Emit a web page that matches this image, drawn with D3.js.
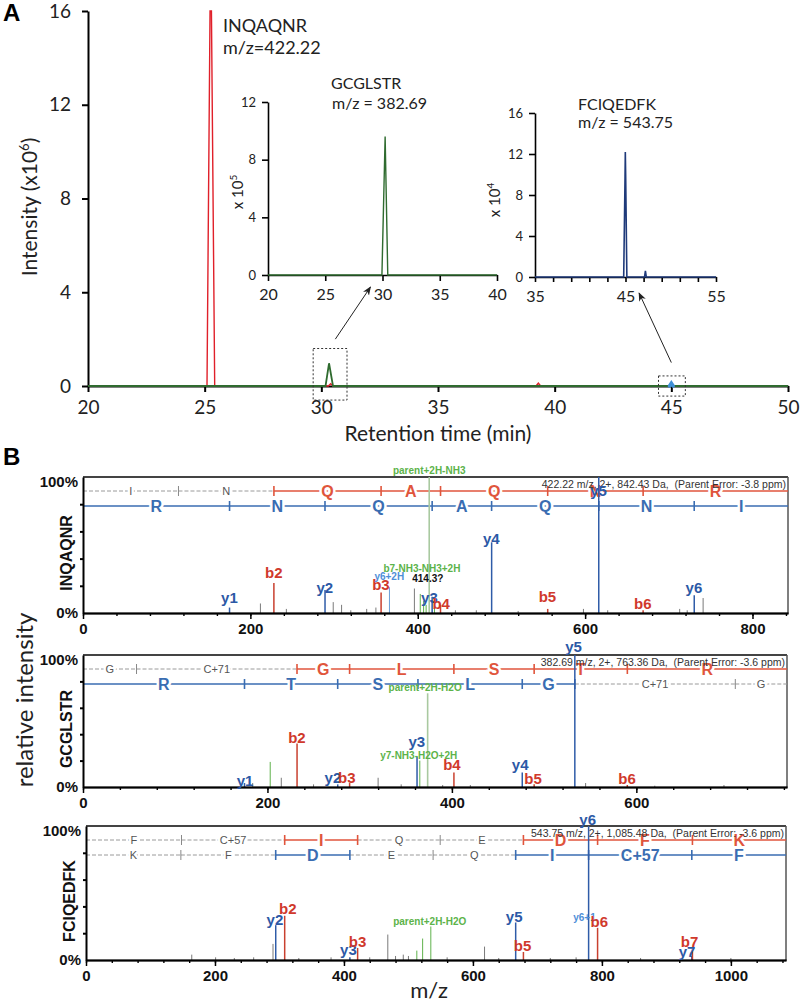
<!DOCTYPE html>
<html>
<head>
<meta charset="utf-8">
<script src="https://cdn.jsdelivr.net/npm/d3@7"></script>
<style>
  body { margin: 0; background: #fff; }
  svg { display: block; }
</style>
</head>
<body>
<div id="fig"></div>
<script>
const W = 800, H = 1005;

// ---------- panel A data : extracted ion chromatograms ----------
const RT_TICKS = [20, 25, 30, 35, 40, 45, 50];
const INT_TICKS = [0, 4, 8, 12, 16];
const redTime = [20, 25.1, 25.23, 25.29, 25.43, 30.3, 30.4, 30.5, 39.2, 39.3, 39.4, 50];
const redInt = [0, 0, 16, 16, 0, 0, 0.1, 0, 0, 0.12, 0, 0];
const greenTime = [20, 30.18, 30.33, 30.5, 50];
const greenInt = [0, 0, 0.97, 0, 0];
const blueTime = [44.92, 45.0, 45.08];
const blueInt = [0, 0.12, 0];

// inset 1 (GCGLSTR, x 10^5)
const IN1_XTICKS = [20, 25, 30, 35, 40];
const IN1_YTICKS = [0, 4, 8, 12];
const in1Time = [20, 29.95, 30.23, 30.46, 40];
const in1Int = [0, 0, 9.6, 0, 0];

// inset 2 (FCIQEDFK, x 10^4)
const IN2_XTICKS = [35, 37, 39, 41, 43, 45, 47, 49, 51, 53, 55];
const IN2_XLABELS = [35, 45, 55];
const IN2_YTICKS = [0, 4, 8, 12, 16];
const in2Time = [35, 44.8, 44.95, 44.98, 45.02, 45.15, 47.1, 47.2, 47.3, 55];
const in2Int = [0, 0, 9.8, 12.2, 9.8, 0, 0, 0.6, 0, 0];

// ---------- panel B data : MS/MS spectra ----------
const MZ_MAJOR = [0, 200, 400, 600, 800, 1000];

// spectrum 1 : INQAQNR
const s1Name = "INQAQNR";
const s1Header = "422.22 m/z, 2+, 842.43 Da,  (Parent Error: -3.8 ppm)";
const s1MaxMz = 842.43;
const s1Mz = [175.1, 212, 243, 228.1, 289.2, 299, 309, 320, 339, 350, 356.2, 366.2, 396, 403, 407, 410, 413.7, 417.2, 420, 427.2, 445, 470, 488.3, 520, 555.3, 598, 616.3, 627, 669.3, 713, 722, 730.4, 741];
const s1Rel = [4, 7, 3, 22, 17, 8, 6, 2, 3, 4, 15, 19, 18, 14, 9, 6, 100, 12, 10, 6, 2, 2, 52, 1.5, 3, 3, 100, 2, 2, 3, 2, 13, 11];
const s1Kind = ['y','n','n','b','y','n','n','n','n','n','b','w','n','g','g','g','p','y','g','b','n','n','y','n','b','n','y','n','b','n','n','y','n'];
const s1LabText = ['y1','b2','y2','b3','y6+2H','b7-NH3-NH3+2H','414.3?','y3','b4','y4','b5','y5','b6','y6','parent+2H-NH3'];
const s1LabMz = [175, 228, 289, 356, 366, 405, 412, 414, 428, 488, 555, 616, 669, 730, 413.7];
const s1LabRel = [7, 26, 15, 17, 24, 30, 23, 7, 3, 51, 8, 86, 3, 15, 102];
const s1LabKind = ['y','b','y','b','w','g','k','y','b','y','b','y','b','y','g'];
const s1BRes = ['I','N','Q','A','Q','N','R'];
const s1BIons = [114.09, 228.13, 356.19, 427.23, 555.28, 669.33];
const s1BCov = [false, false, true, true, true, true, true];
const s1YRes = ['R','N','Q','A','Q','N','I'];
const s1YIons = [175.12, 289.16, 417.22, 488.26, 616.32, 730.36];
const s1YCov = [true, true, true, true, true, true, true];

// spectrum 2 : GCGLSTR
const s2Name = "GCGLSTR";
const s2Header = "382.69 m/z, 2+, 763.36 Da,  (Parent Error: -3.6 ppm)";
const s2MaxMz = 763.36;
const s2Mz = [175.1, 184, 203, 215, 232.1, 250, 276.2, 289.1, 320, 345, 362.2, 365.2, 373.7, 390, 402.2, 420, 476.3, 489.2, 533.3, 545, 590.2, 620, 695];
const s2Rel = [3, 3, 19, 7, 33, 2, 2, 3, 7, 2, 23, 20, 71, 1.5, 11, 1.5, 11, 2, 100, 3, 1.5, 1, 1.5];
const s2Kind = ['y','n','g','n','b','n','y','b','n','n','y','g','p','n','b','n','y','b','y','n','b','n','n'];
const s2LabText = ['y1','b2','y2','b3','y3','y7-NH3-H2O+2H','parent+2H-H2O','b4','y4','b5','y5','b6'];
const s2LabMz = [175.7, 232, 271, 286, 362, 364, 371, 400, 474, 488, 532, 590];
const s2LabRel = [1, 33, 3, 3, 30, 21, 73, 13, 13, 2, 102, 2];
const s2LabKind = ['y','b','y','b','y','g','g','b','y','b','y','b'];
const s2BRes = ['G','C+71','G','L','S','T','R'];
const s2BIons = [58.03, 232.05, 289.07, 402.16, 489.19, 590.24];
const s2BCov = [false, false, true, true, true, true, true];
const s2YRes = ['R','T','S','L','G','C+71','G'];
const s2YIons = [175.12, 276.17, 363.20, 476.28, 533.30, 707.3];
const s2YCov = [true, true, true, true, true, false, false];

// spectrum 3 : FCIQEDFK
const s3Name = "FCIQEDFK";
const s3Header = "543.75 m/z, 2+, 1,085.48 Da,  (Parent Error: -3.6 ppm)";
const s3MaxMz = 1085.48;
const s3Mz = [164, 201, 230, 260, 290, 294.2, 308.1, 330, 380, 409.2, 421.2, 440, 468, 480, 492, 500, 513, 522, 534.7, 560, 618, 640, 666.3, 678.3, 720, 760, 779.4, 793.3, 860, 939.4, 940.4, 1000];
const s3Rel = [4, 2, 1.5, 2, 12, 26, 33, 1.5, 2, 2, 9, 2, 19, 3, 4, 3, 7, 16, 25, 2, 10, 1.5, 28, 6, 1.5, 2, 100, 24, 1.5, 3, 8, 1.5];
const s3Kind = ['n','n','n','n','n','y','b','n','n','y','b','n','n','n','n','n','g','g','g','n','n','n','y','b','n','n','y','b','n','y','b','n'];
const s3LabText = ['y2','b2','y3','b3','parent+2H-H2O','y5','b5','y6+1','y6','b6','b7','y7'];
const s3LabMz = [293, 313, 407, 421, 533, 664, 677, 773, 778, 796, 936, 932];
const s3LabRel = [26, 34, 4, 10, 26, 28, 7, 29, 101, 25, 10, 2];
const s3LabKind = ['y','b','y','b','g','y','b','w','y','b','b','y'];
const s3BRes = ['F','C+57','I','Q','E','D','F','K'];
const s3BIons = [148.08, 308.11, 421.19, 549.25, 678.29, 793.32, 940.39];
const s3BCov = [false, false, true, false, false, true, true, true];
const s3YRes = ['K','F','D','E','Q','I','C+57','F'];
const s3YIons = [147.11, 294.18, 409.21, 538.25, 666.31, 779.39, 939.42];
const s3YCov = [false, false, true, false, false, true, true, true];

// ---------- drawing ----------
const SANS = "Lato, 'Open Sans', sans-serif";
const ARIAL = "'Liberation Sans', Arial, sans-serif";

const svg = d3.select("#fig").append("svg")
    .attr("width", W).attr("height", H)
    .attr("viewBox", `0 0 ${W} ${H}`);

svg.append("defs").append("marker")
    .attr("id", "arrow").attr("viewBox", "0 0 10 10")
    .attr("refX", 9).attr("refY", 5)
    .attr("markerWidth", 9).attr("markerHeight", 9)
    .attr("orient", "auto-start-reverse")
  .append("path").attr("d", "M0,1 L10,5 L0,9 L3,5 Z").attr("fill", "#222");

function styleAxis(g, size, width) {
    g.selectAll("path, line").attr("stroke", "#000").attr("stroke-width", width);
    g.selectAll("text").attr("font-family", SANS).attr("font-size", size).attr("fill", "#222");
}

function zip(a, b) { return a.map((v, i) => [v, b[i]]); }

// ---- panel A main chart
const xMain = d3.scaleLinear().domain([20, 50]).range([88, 788]);
const yMain = d3.scaleLinear().domain([0, 16]).range([386, 11]);

svg.append("g").attr("transform", "translate(0,386)")
    .call(d3.axisBottom(xMain).tickValues(RT_TICKS).tickSize(6).tickPadding(9).tickSizeOuter(0))
    .call(g => styleAxis(g, 19, 2));
svg.append("g").attr("transform", "translate(88,0)")
    .call(d3.axisLeft(yMain).tickValues(INT_TICKS).tickSize(6).tickPadding(11).tickSizeOuter(0))
    .call(g => styleAxis(g, 19, 2));

const lineMain = d3.line().x(d => xMain(d[0])).y(d => yMain(d[1]));
svg.append("path").datum(zip(redTime, redInt)).attr("d", lineMain)
    .attr("fill", "none").attr("stroke", "#e0202a").attr("stroke-width", 1.4);
svg.append("path").datum(zip(greenTime, greenInt)).attr("d", lineMain)
    .attr("fill", "none").attr("stroke", "#2f6b2f").attr("stroke-width", 1.8);
svg.append("path").datum(zip(blueTime, blueInt)).attr("d", lineMain)
    .attr("fill", "none").attr("stroke", "#3f8fd6").attr("stroke-width", 3.5)
    .attr("stroke-linecap", "round");

svg.append("text").attr("x", 3).attr("y", 21).text("A")
    .attr("font-family", ARIAL).attr("font-weight", "bold").attr("font-size", 24);

const yl = svg.append("text").attr("transform", "translate(37,207) rotate(-90)")
    .attr("text-anchor", "middle").attr("font-family", SANS).attr("font-size", 21).attr("fill", "#222");
yl.append("tspan").text("Intensity (x10");
yl.append("tspan").attr("dy", -8).attr("font-size", 13).text("6");
yl.append("tspan").attr("dy", 8).text(")");

svg.append("text").attr("x", xMain(35)).attr("y", 441).attr("text-anchor", "middle")
    .attr("font-family", SANS).attr("font-size", 21).attr("fill", "#222").text("Retention time (min)");

svg.append("text").attr("x", 223).attr("y", 32).attr("font-family", SANS).attr("font-size", 18).attr("fill", "#222").text("INQAQNR");
svg.append("text").attr("x", 223).attr("y", 54).attr("font-family", SANS).attr("font-size", 18).attr("fill", "#222").text("m/z=422.22");

// dashed boxes and arrows
function dashedBox(t0, t1, i0, i1) {
    svg.append("rect")
        .attr("x", xMain(t0)).attr("y", yMain(i1))
        .attr("width", xMain(t1) - xMain(t0)).attr("height", yMain(i0) - yMain(i1))
        .attr("fill", "none").attr("stroke", "#333").attr("stroke-width", 1)
        .attr("stroke-dasharray", "2,2");
}
dashedBox(29.65, 31.1, -0.6, 1.6);
dashedBox(44.45, 45.6, -0.43, 0.43);

// ---- inset 1
const xIn1 = d3.scaleLinear().domain([20, 40]).range([268, 497]);
const yIn1 = d3.scaleLinear().domain([0, 12]).range([275, 102]);
svg.append("g").attr("transform", "translate(0,275)")
    .call(d3.axisBottom(xIn1).tickValues(IN1_XTICKS).tickSize(6).tickPadding(8).tickSizeOuter(0))
    .call(g => styleAxis(g, 16, 1.6));
svg.append("g").attr("transform", "translate(268,0)")
    .call(d3.axisLeft(yIn1).tickValues(IN1_YTICKS).tickSize(6).tickPadding(6).tickSizeOuter(0))
    .call(g => styleAxis(g, 13, 1.6));
svg.append("path").datum(zip(in1Time, in1Int))
    .attr("d", d3.line().x(d => xIn1(d[0])).y(d => yIn1(d[1])))
    .attr("fill", "none").attr("stroke", "#2f6b2f").attr("stroke-width", 1.4);
const y1l = svg.append("text").attr("transform", "translate(243,192) rotate(-90)")
    .attr("text-anchor", "middle").attr("font-family", SANS).attr("font-size", 15).attr("fill", "#222");
y1l.append("tspan").text("x 10");
y1l.append("tspan").attr("dy", -6).attr("font-size", 10).text("5");
svg.append("text").attr("x", 331).attr("y", 89).attr("font-family", SANS).attr("font-size", 16).attr("fill", "#222").text("GCGLSTR");
svg.append("text").attr("x", 332).attr("y", 109).attr("font-family", SANS).attr("font-size", 16).attr("fill", "#222").text("m/z = 382.69");

// ---- inset 2
const xIn2 = d3.scaleLinear().domain([35, 55]).range([535, 716]);
const yIn2 = d3.scaleLinear().domain([0, 16]).range([277, 113]);
svg.append("g").attr("transform", "translate(0,277)")
    .call(d3.axisBottom(xIn2).tickValues(IN2_XTICKS).tickSize(5).tickPadding(9).tickSizeOuter(0)
        .tickFormat(d => IN2_XLABELS.includes(d) ? d : ""))
    .call(g => styleAxis(g, 16, 1.6));
svg.append("g").attr("transform", "translate(535,0)")
    .call(d3.axisLeft(yIn2).tickValues(IN2_YTICKS).tickSize(6).tickPadding(6).tickSizeOuter(0))
    .call(g => styleAxis(g, 13, 1.6));
svg.append("path").datum(zip(in2Time, in2Int))
    .attr("d", d3.line().x(d => xIn2(d[0])).y(d => yIn2(d[1])))
    .attr("fill", "none").attr("stroke", "#1f3a7a").attr("stroke-width", 1.6);
const y2l = svg.append("text").attr("transform", "translate(500,200) rotate(-90)")
    .attr("text-anchor", "middle").attr("font-family", SANS).attr("font-size", 15).attr("fill", "#222");
y2l.append("tspan").text("x 10");
y2l.append("tspan").attr("dy", -6).attr("font-size", 10).text("4");
svg.append("text").attr("x", 578).attr("y", 110).attr("font-family", SANS).attr("font-size", 16).attr("fill", "#222").text("FCIQEDFK");
svg.append("text").attr("x", 578).attr("y", 128).attr("font-family", SANS).attr("font-size", 16).attr("fill", "#222").text("m/z = 543.75");

// arrows from the dashed boxes to the insets
function arrow(x1, y1, x2, y2) {
    svg.append("line").attr("x1", x1).attr("y1", y1).attr("x2", x2).attr("y2", y2)
        .attr("stroke", "#222").attr("stroke-width", 1).attr("marker-end", "url(#arrow)");
}
arrow(xMain(30.6), yMain(2.0), xIn1(28.95), yIn1(0) + 12);
arrow(xMain(45.0), yMain(1.0), xIn2(46.5), yIn2(0) + 16);

// ---- panel B
svg.append("text").attr("x", 3).attr("y", 465).text("B")
    .attr("font-family", ARIAL).attr("font-weight", "bold").attr("font-size", 24);

const RED = "#d0392c", BLUE = "#2c59a6", GREEN = "#5cb34a";
const PEAK_COL = { b: "#c9402f", y: "#2f5ca8", g: "#5fb24c", p: "#a9c9a0", w: "#6a9fd8", n: "#7a7a7a" };
const LAB_COL = { b: RED, y: BLUE, g: GREEN, w: "#4f8fd8", k: "#111" };

function drawLadder(g, x, yPos, ions, res, cov, color) {
    const d0 = x.domain()[0], d1 = x.domain()[1];
    const bounds = [d0, ...ions, d1];
    res.forEach((r, i) => {
        g.append("line").attr("x1", x(bounds[i])).attr("x2", x(bounds[i + 1]))
            .attr("y1", yPos).attr("y2", yPos)
            .attr("stroke", cov[i] ? color : "#9a9a9a")
            .attr("stroke-width", cov[i] ? 1.6 : 1)
            .attr("stroke-dasharray", cov[i] ? null : "4,2");
    });
    ions.forEach((m, i) => {
        const on = cov[i] || cov[i + 1];
        g.append("line").attr("x1", x(m)).attr("x2", x(m))
            .attr("y1", yPos - 5).attr("y2", yPos + 5)
            .attr("stroke", on ? color : "#888").attr("stroke-width", on ? 1.6 : 1);
    });
    res.forEach((r, i) => {
        const cx = (x(bounds[i]) + x(bounds[i + 1])) / 2;
        g.append("text").attr("x", cx).attr("y", yPos + (cov[i] ? 5.5 : 4))
            .attr("text-anchor", "middle")
            .attr("font-family", ARIAL)
            .attr("font-weight", cov[i] ? "bold" : "normal")
            .attr("font-size", cov[i] ? 16 : 11)
            .attr("fill", cov[i] ? color : "#555")
            .attr("stroke", "#fff").attr("stroke-width", 5).attr("paint-order", "stroke")
            .text(r);
    });
}

function drawSpectrum(sp, box) {
    const g = svg.append("g");
    const x = d3.scaleLinear().domain([0, sp.maxMz]).range([box.left, box.right]);
    const y = d3.scaleLinear().domain([0, 100]).range([box.bottom, box.top]);

    // frame
    g.append("line").attr("x1", box.left).attr("x2", box.right).attr("y1", box.top).attr("y2", box.top)
        .attr("stroke", "#444").attr("stroke-width", 2);
    g.append("line").attr("x1", box.right).attr("x2", box.right).attr("y1", box.top).attr("y2", box.bottom)
        .attr("stroke", "#555").attr("stroke-width", 1.5);

    // ladders
    drawLadder(g, x, box.top + 14, sp.bIons, sp.bRes, sp.bCov, "#e0553c");
    drawLadder(g, x, box.top + 29, sp.yIons, sp.yRes, sp.yCov, "#3a6db2");

    // header
    g.append("text").attr("x", box.right - 2).attr("y", box.top + 11)
        .attr("text-anchor", "end").attr("font-family", ARIAL).attr("font-size", 10.5)
        .attr("fill", "#333").style("white-space", "pre").text(sp.header);

    // peaks
    g.selectAll(".pk").data(sp.mz.map((m, i) => ({ m, r: sp.rel[i], k: sp.kind[i] })))
      .enter().append("line")
        .attr("x1", d => x(d.m)).attr("x2", d => x(d.m))
        .attr("y1", y(0)).attr("y2", d => y(d.r))
        .attr("stroke", d => PEAK_COL[d.k])
        .attr("stroke-width", d => (d.k === "b" || d.k === "y") ? 1.5 : (d.k === "p" ? 1.6 : 1));

    // axes
    g.append("g").attr("transform", `translate(0,${box.bottom})`)
        .call(d3.axisBottom(x).tickValues(d3.range(0, sp.maxMz, 40)).tickSize(3).tickFormat("").tickSizeOuter(0))
        .call(a => a.selectAll("path,line").attr("stroke", "#000").attr("stroke-width", 1.4));
    g.append("g").attr("transform", `translate(0,${box.bottom})`)
        .call(d3.axisBottom(x).tickValues(MZ_MAJOR.filter(v => v <= sp.maxMz)).tickSize(6).tickPadding(4)
            .tickSizeOuter(0).tickFormat(d3.format("d")))
        .call(a => {
            a.select(".domain").attr("stroke-width", 2);
            a.selectAll("line").attr("stroke", "#000").attr("stroke-width", 1.5);
            a.selectAll("text").attr("font-family", ARIAL).attr("font-weight", "bold")
                .attr("font-size", 15).attr("fill", "#111");
        });
    g.append("g").attr("transform", `translate(${box.left},0)`)
        .call(d3.axisLeft(y).tickValues([20, 40, 60, 80]).tickSize(3).tickFormat("").tickSizeOuter(0))
        .call(a => a.selectAll("path,line").attr("stroke", "#000").attr("stroke-width", 2));
    [[100, box.top + 10], [0, box.bottom + 5]].forEach(([v, yy]) => {
        g.append("text").attr("x", box.left - 5).attr("y", yy).attr("text-anchor", "end")
            .attr("font-family", ARIAL).attr("font-weight", "bold").attr("font-size", 15)
            .attr("fill", "#111").text(v + "%");
    });

    // peak labels
    sp.labText.forEach((t, i) => {
        const k = sp.labKind[i];
        const small = (k === "g" || k === "w" || k === "k");
        g.append("text").attr("x", x(sp.labMz[i])).attr("y", y(sp.labRel[i]))
            .attr("text-anchor", "middle").attr("font-family", ARIAL).attr("font-weight", "bold")
            .attr("font-size", small ? 10 : 15).attr("fill", LAB_COL[k]).text(t);
    });

    // peptide name
    g.append("text").attr("transform", `translate(${box.left - 11},${(box.top + box.bottom) / 2 + 8}) rotate(-90)`)
        .attr("text-anchor", "middle").attr("font-family", ARIAL).attr("font-weight", "bold")
        .attr("font-size", 16).attr("fill", "#111").text(sp.name);
}

drawSpectrum({ name: s1Name, header: s1Header, maxMz: s1MaxMz, mz: s1Mz, rel: s1Rel, kind: s1Kind,
    labText: s1LabText, labMz: s1LabMz, labRel: s1LabRel, labKind: s1LabKind,
    bRes: s1BRes, bIons: s1BIons, bCov: s1BCov, yRes: s1YRes, yIons: s1YIons, yCov: s1YCov },
    { left: 83, right: 788, top: 477, bottom: 613 });
drawSpectrum({ name: s2Name, header: s2Header, maxMz: s2MaxMz, mz: s2Mz, rel: s2Rel, kind: s2Kind,
    labText: s2LabText, labMz: s2LabMz, labRel: s2LabRel, labKind: s2LabKind,
    bRes: s2BRes, bIons: s2BIons, bCov: s2BCov, yRes: s2YRes, yIons: s2YIons, yCov: s2YCov },
    { left: 83, right: 787, top: 655, bottom: 787 });
drawSpectrum({ name: s3Name, header: s3Header, maxMz: s3MaxMz, mz: s3Mz, rel: s3Rel, kind: s3Kind,
    labText: s3LabText, labMz: s3LabMz, labRel: s3LabRel, labKind: s3LabKind,
    bRes: s3BRes, bIons: s3BIons, bCov: s3BCov, yRes: s3YRes, yIons: s3YIons, yCov: s3YCov },
    { left: 86, right: 786, top: 826, bottom: 960 });

svg.append("text").attr("transform", "translate(33,700) rotate(-90)")
    .attr("text-anchor", "middle").attr("font-family", SANS).attr("font-size", 24).attr("fill", "#222")
    .text("relative intensity");
svg.append("text").attr("x", 429).attr("y", 998).attr("text-anchor", "middle")
    .attr("font-family", SANS).attr("font-size", 22).attr("fill", "#222").text("m/z");
</script>
</body>
</html>
